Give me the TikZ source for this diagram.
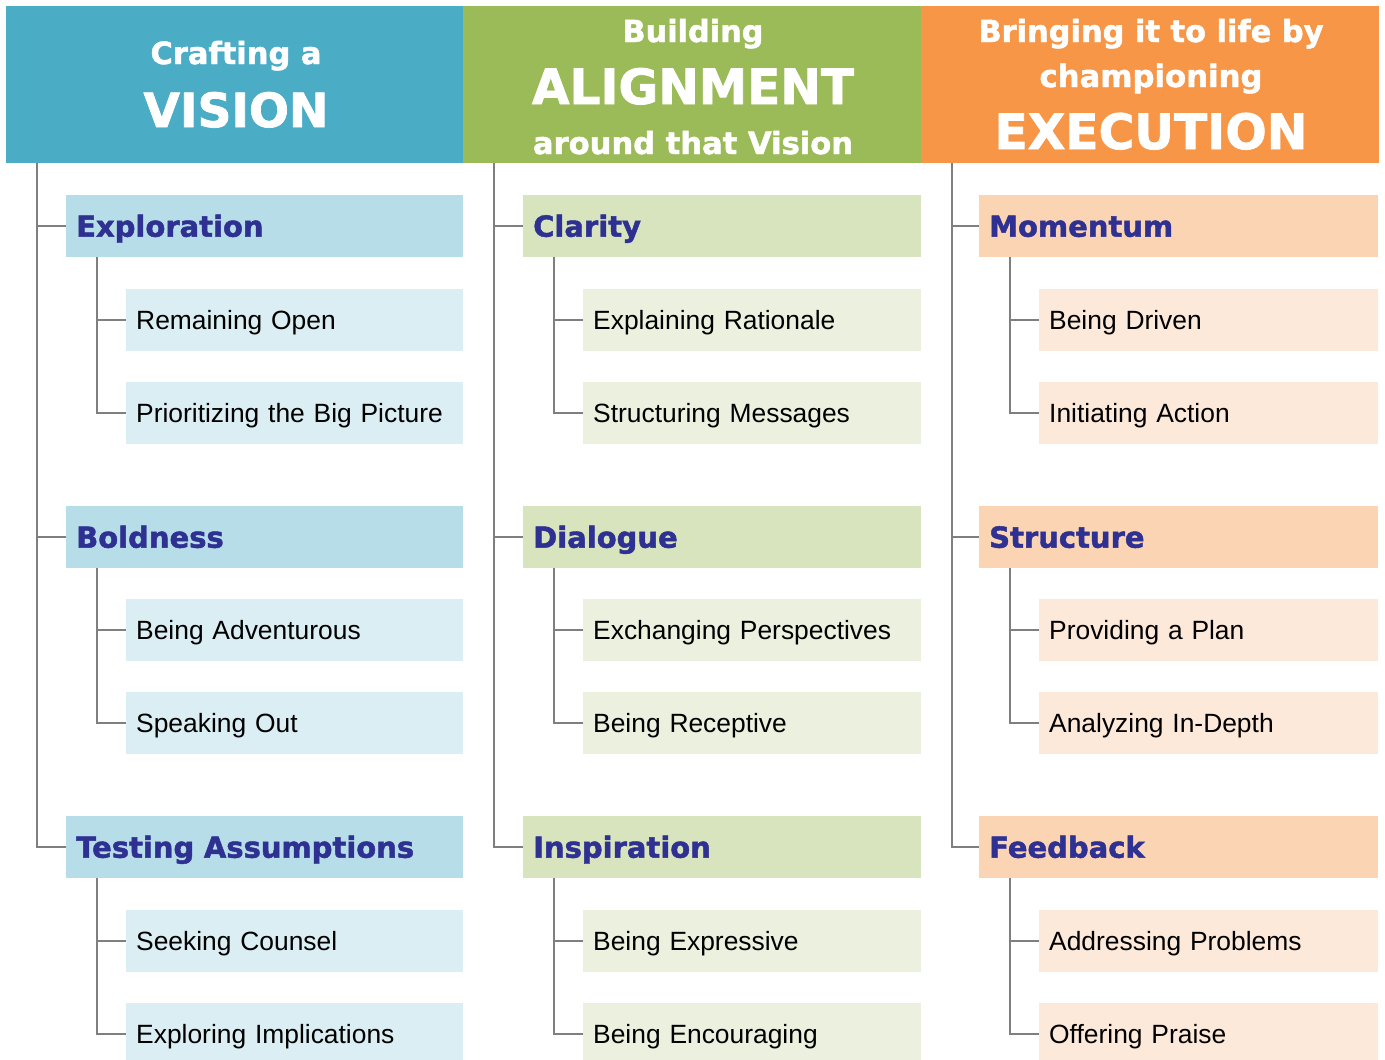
\documentclass[tikz,border=0pt]{standalone}
\usepackage{fontspec}
\setmainfont{Liberation Sans}
\newfontfamily\heavy{DejaVu Sans}[BoldFeatures={FakeBold=1.6}]
\definecolor{hblue}{HTML}{4BACC6}
\definecolor{hgreen}{HTML}{9BBB59}
\definecolor{horange}{HTML}{F79646}
\definecolor{tblue}{HTML}{B7DDE8}
\definecolor{tgreen}{HTML}{D7E4BD}
\definecolor{torange}{HTML}{FBD4B4}
\definecolor{cblue}{HTML}{DAEEF3}
\definecolor{cgreen}{HTML}{EBF1DE}
\definecolor{corange}{HTML}{FDE9D9}
\definecolor{ink}{HTML}{2E3192}
\definecolor{linegray}{HTML}{7F7F7F}
\tikzset{
  hdrbox/.style={fill=#1, draw=none, anchor=north west, inner sep=0pt, minimum width=458, minimum height=157},
  hdrtext/.style={anchor=base, inner sep=0pt, text=white, font=\heavy\bfseries},
  ttlbox/.style={fill=#1, draw=none, anchor=north west, inner xsep=10, inner ysep=0pt, minimum height=62,
    text height=21, text depth=0, align=left, text=ink, font=\heavy\bfseries\fontsize{29}{32}\selectfont},
  chlbox/.style={fill=#1, draw=none, anchor=north west, inner xsep=10, inner ysep=0pt, minimum height=62,
    text height=18.9, text depth=0, align=left, text=black, font=\fontsize{26.4}{30}\selectfont},
  conn/.style={draw=linegray, line width=1.8}
}
\begin{document}
\begin{tikzpicture}[x=1pt,y=-1pt]
\useasboundingbox (0,0) rectangle (1385,1060);
\clip (0,0) rectangle (1385,1060);
% headers
\node[hdrbox=hblue] (h1) at (6,6) {};
\node[hdrbox=hgreen] (h2) at (463,6) {};
\node[hdrbox=horange, minimum width=458] (h3) at (921,6) {};
\node[hdrtext] (h1a) at (236,64) {\resizebox{171pt}{!}{Crafting a}};
\node[hdrtext] (h1b) at (236,127) {\resizebox{185pt}{!}{VISION}};
\node[hdrtext] (h2a) at (693,42) {\resizebox{141pt}{!}{Building}};
\node[hdrtext] (h2b) at (693,104) {\resizebox{322pt}{!}{ALIGNMENT}};
\node[hdrtext] (h2c) at (693,154) {\resizebox{320pt}{!}{around that Vision}};
\node[hdrtext] (h3a) at (1151,42) {\resizebox{345pt}{!}{Bringing it to life by}};
\node[hdrtext] (h3b) at (1151,87) {\resizebox{223pt}{!}{championing}};
\node[hdrtext] (h3c) at (1151,149) {\resizebox{313pt}{!}{EXECUTION}};
% column 1
\node[ttlbox=tblue, text width=377] (t11) at (66,195) {Exploration};
\node[ttlbox=tblue, text width=377] (t12) at (66,506) {Boldness};
\node[ttlbox=tblue, text width=377] (t13) at (66,816) {Testing Assumptions};
\node[chlbox=cblue, text width=317] (c111) at (126,289) {Remaining Open};
\node[chlbox=cblue, text width=317] (c112) at (126,382) {Prioritizing the Big Picture};
\node[chlbox=cblue, text width=317] (c121) at (126,599) {Being Adventurous};
\node[chlbox=cblue, text width=317] (c122) at (126,692) {Speaking Out};
\node[chlbox=cblue, text width=317] (c131) at (126,910) {Seeking Counsel};
\node[chlbox=cblue, text width=317] (c132) at (126,1003) {Exploring Implications};
% column 2
\node[ttlbox=tgreen, text width=378] (t21) at (523,195) {Clarity};
\node[ttlbox=tgreen, text width=378] (t22) at (523,506) {Dialogue};
\node[ttlbox=tgreen, text width=378] (t23) at (523,816) {Inspiration};
\node[chlbox=cgreen, text width=318] (c211) at (583,289) {Explaining Rationale};
\node[chlbox=cgreen, text width=318] (c212) at (583,382) {Structuring Messages};
\node[chlbox=cgreen, text width=318] (c221) at (583,599) {Exchanging Perspectives};
\node[chlbox=cgreen, text width=318] (c222) at (583,692) {Being Receptive};
\node[chlbox=cgreen, text width=318] (c231) at (583,910) {Being Expressive};
\node[chlbox=cgreen, text width=318] (c232) at (583,1003) {Being Encouraging};
% column 3
\node[ttlbox=torange, text width=379] (t31) at (979,195) {Momentum};
\node[ttlbox=torange, text width=379] (t32) at (979,506) {Structure};
\node[ttlbox=torange, text width=379] (t33) at (979,816) {Feedback};
\node[chlbox=corange, text width=319] (c311) at (1039,289) {Being Driven};
\node[chlbox=corange, text width=319] (c312) at (1039,382) {Initiating Action};
\node[chlbox=corange, text width=319] (c321) at (1039,599) {Providing a Plan};
\node[chlbox=corange, text width=319] (c322) at (1039,692) {Analyzing In-Depth};
\node[chlbox=corange, text width=319] (c331) at (1039,910) {Addressing Problems};
\node[chlbox=corange, text width=319] (c332) at (1039,1003) {Offering Praise};
% connectors
\foreach \c in {1,2,3}{
  \foreach \t in {1,2,3}{
    \draw[conn] ([xshift=31]h\c.south west) |- (t\c\t.west);
    \foreach \k in {1,2}{
      \draw[conn] ([xshift=31]t\c\t.south west) |- (c\c\t\k.west);
    }
  }
}
\end{tikzpicture}
\end{document}
